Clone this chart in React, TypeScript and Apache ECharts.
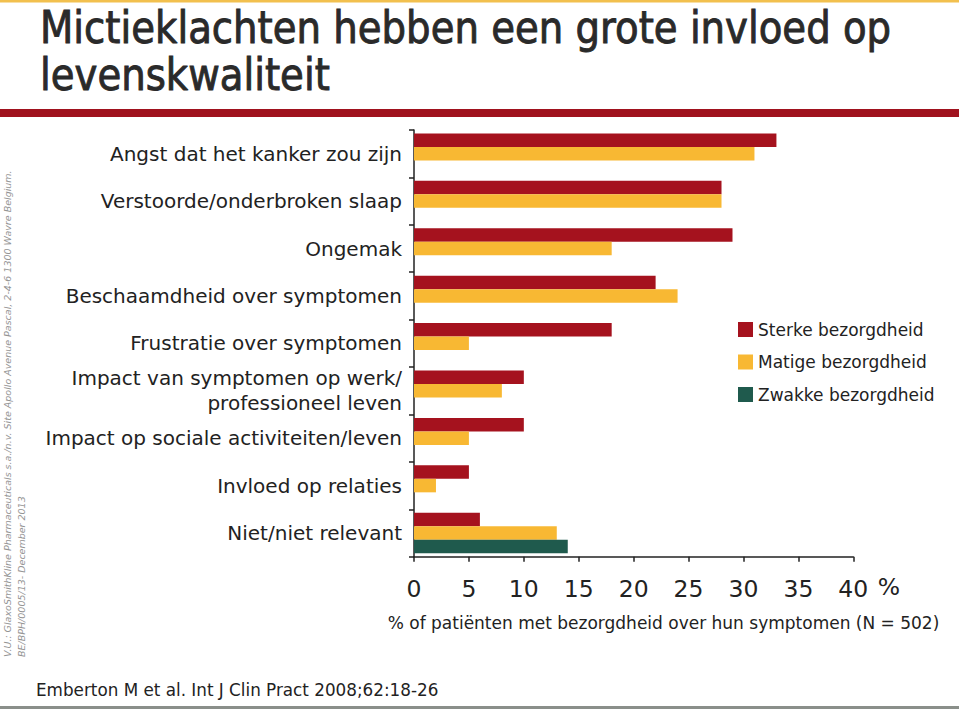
import React, { useEffect, useRef } from "react";
import * as echarts from "echarts";

const categories = [
  "Angst dat het kanker zou zijn",
  "Verstoorde/onderbroken slaap",
  "Ongemak",
  "Beschaamdheid over symptomen",
  "Frustratie over symptomen",
  "Impact van symptomen op werk/\nprofessioneel leven",
  "Impact op sociale activiteiten/leven",
  "Invloed op relaties",
  "Niet/niet relevant",
];
const seriesNames = ["Sterke bezorgdheid", "Matige bezorgdheid", "Zwakke bezorgdheid"];
const sterke = [33, 28, 29, 22, 18, 10, 10, 5, 6];
const matige = [31, 28, 18, 24, 5, 8, 5, 2, 13];
const zwakke = [null, null, null, null, null, null, null, null, 14];
const xTicks = [0, 5, 10, 15, 20, 25, 30, 35, 40];

const titleLine1 = "Mictieklachten hebben een grote invloed op";
const titleLine2 = "levenskwaliteit";
const axisTitle = "% of patiënten met bezorgdheid over hun symptomen (N = 502)";
const sourceText = "Emberton M et al. Int J Clin Pract 2008;62:18-26";
const sideLine1 = "V.U.: GlaxoSmithKline Pharmaceuticals s.a./n.v. Site Apollo Avenue Pascal, 2-4-6 1300 Wavre Belgium.";
const sideLine2 = "BE/BPH/0005/13- December 2013";

const RED = "#a5121e";
const YELLOW = "#f8b833";
const GREEN = "#1f5a4d";
const TEXT = "#222222";
const FONT = "DejaVu Sans";
const TITLE_FONT = "DejaVu Sans Condensed";

export default function App() {
  const ref = useRef<HTMLDivElement>(null);
  useEffect(() => {
    document.body.style.margin = "0";
    if (!ref.current) return;
    const chart = echarts.init(ref.current, null, { renderer: "svg" });
    const txt = (extra: any) => ({
      type: "text",
      silent: true,
      ...extra,
    });
    const titleStyle = (text: string) => ({
      text,
      fontSize: 45,
      fontWeight: "normal",
      fontFamily: TITLE_FONT,
      fill: "#2a2a2a",
      stroke: "#2a2a2a",
      lineWidth: 0.9,
      align: "left",
      verticalAlign: "middle",
      textAlign: "left",
      textVerticalAlign: "middle",
    });
    chart.setOption({
      animation: false,
      backgroundColor: "#ffffff",
      textStyle: { fontFamily: FONT },
      grid: { left: 414, top: 130, width: 439.3, height: 426.7, containLabel: false },
      legend: {
        orient: "vertical",
        left: 733,
        top: 316,
        itemWidth: 15,
        itemHeight: 15,
        itemGap: 15.5,
        icon: "rect",
        data: seriesNames,
        textStyle: { fontSize: 17, color: TEXT, fontFamily: FONT, lineHeight: 17 },
      },
      xAxis: {
        type: "value",
        min: xTicks[0],
        max: xTicks[xTicks.length - 1],
        interval: xTicks[1] - xTicks[0],
        axisLine: { show: true, lineStyle: { color: TEXT, width: 1.5 } },
        axisTick: { show: true, length: 5, lineStyle: { color: TEXT, width: 1.5 } },
        splitLine: { show: false },
        axisLabel: { fontSize: 23.5, color: TEXT, margin: 20, fontFamily: FONT },
      },
      yAxis: {
        type: "category",
        inverse: true,
        data: categories,
        axisLine: { show: true, lineStyle: { color: TEXT, width: 1.5 } },
        axisTick: { show: true, length: 5, lineStyle: { color: TEXT, width: 1.5 } },
        axisLabel: { fontSize: 20, color: TEXT, margin: 12, lineHeight: 25, fontFamily: FONT },
      },
      series: [
        { name: seriesNames[0], type: "bar", data: sterke, itemStyle: { color: RED }, barWidth: 13.5, barGap: "0%" },
        { name: seriesNames[1], type: "bar", data: matige, itemStyle: { color: YELLOW }, barWidth: 13.5, barGap: "0%" },
        { name: seriesNames[2], type: "bar", data: zwakke, itemStyle: { color: GREEN }, barWidth: 13.5, barGap: "0%" },
      ],
      graphic: [
        { type: "rect", silent: true, shape: { x: 0, y: 0, width: 959, height: 2.5 }, style: { fill: "#f2c04e" } },
        { type: "rect", silent: true, shape: { x: 0, y: 109, width: 959, height: 8 }, style: { fill: "#a0121e" } },
        { type: "rect", silent: true, shape: { x: 0, y: 706, width: 959, height: 3 }, style: { fill: "#8a8f8a" } },
        txt({ x: 40, y: 27, scaleX: 0.955, style: titleStyle(titleLine1) }),
        txt({ x: 40, y: 74, scaleX: 0.955, style: titleStyle(titleLine2) }),
        txt({ x: 889, y: 587, style: { text: "%", fontSize: 23.5, fontFamily: FONT, fill: TEXT, align: "center", verticalAlign: "middle", textAlign: "center", textVerticalAlign: "middle" } }),
        txt({ x: 663.5, y: 623, style: { text: axisTitle, fontSize: 17, fontFamily: FONT, fill: TEXT, align: "center", verticalAlign: "middle", textAlign: "center", textVerticalAlign: "middle" } }),
        txt({ x: 36, y: 690, style: { text: sourceText, fontSize: 16.8, fontFamily: FONT, fill: TEXT, align: "left", verticalAlign: "middle", textAlign: "left", textVerticalAlign: "middle" } }),
        txt({ x: 7, y: 657, rotation: Math.PI / 2, style: { text: sideLine1, fontSize: 9.5, fontStyle: "italic", fontFamily: FONT, fill: "#949494", align: "left", verticalAlign: "middle", textAlign: "left", textVerticalAlign: "middle" } }),
        txt({ x: 21, y: 657, rotation: Math.PI / 2, style: { text: sideLine2, fontSize: 9.5, fontStyle: "italic", fontFamily: FONT, fill: "#949494", align: "left", verticalAlign: "middle", textAlign: "left", textVerticalAlign: "middle" } }),
      ],
    });
    return () => chart.dispose();
  }, []);
  return <div ref={ref} style={{ width: 959, height: 709 }} />;
}
